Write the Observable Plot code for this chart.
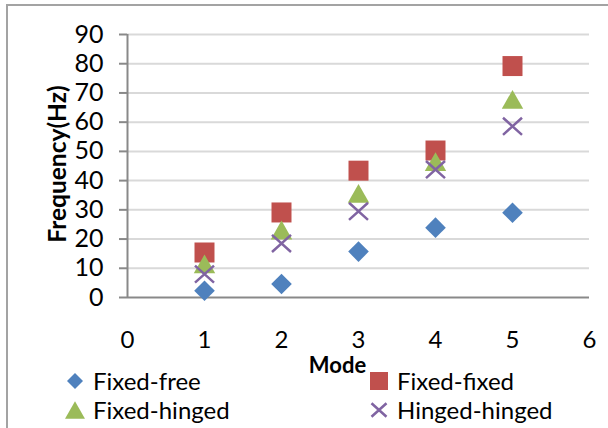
<!DOCTYPE html>
<html>
<head>
<meta charset="utf-8">
<script src="https://cdn.jsdelivr.net/npm/d3@7"></script>
<script src="https://cdn.jsdelivr.net/npm/@observablehq/plot@0.6"></script>
<style>
  body { margin: 0; background: #fff; font-family: Lato, sans-serif; }
  #frame { position: relative; width: 608px; height: 428px; overflow: hidden; background: #fff; }
  #chart { position: absolute; left: 0; top: 0; }
  #border { position: absolute; left: 6px; top: 4px; width: 700px; height: 500px;
            border-left: 2px solid #a3a3a3; border-top: 2px solid #a3a3a3; }
  #legend { position: absolute; left: 65px; top: 369px; display: grid;
            grid-template-columns: 304px 304px; grid-auto-rows: 29px; }
  .item { display: flex; align-items: center; height: 24px; font-size: 24px; line-height: 24px;
          color: #000; white-space: nowrap; }
  .item svg { width: 20px; height: 20px; margin-right: 8px; overflow: visible; flex: none; }
</style>
</head>
<body>
<div id="frame">
  <div id="chart"></div>
  <div id="border"></div>
  <div id="legend"></div>
</div>
<script>
// Natural frequencies (Hz) of the first five modes for each boundary condition
const modes = [1, 2, 3, 4, 5];
const fixedFree = [2.3, 4.6, 15.7, 23.9, 29.0];
const fixedFixed = [15.4, 29.1, 43.4, 50.3, 79.2];
const fixedHinged = [11.5, 23.1, 35.6, 46.5, 67.8];
const hingedHinged = [8.0, 18.5, 29.5, 43.8, 58.6];
const seriesNames = ["Fixed-free", "Fixed-fixed", "Fixed-hinged", "Hinged-hinged"];
const seriesValues = [fixedFree, fixedFixed, fixedHinged, hingedHinged];
const xTicks = [0, 1, 2, 3, 4, 5, 6];
const yTicks = [0, 10, 20, 30, 40, 50, 60, 70, 80, 90];

// Marker shapes, drawn inside a box of half-size r where size = π r²
const half = s => Math.sqrt(s / Math.PI);
const shapes = {
  diamond: { draw(c, s) { const r = half(s); c.moveTo(0, -r); c.lineTo(r, 0); c.lineTo(0, r); c.lineTo(-r, 0); c.closePath(); } },
  square: { draw(c, s) { const r = half(s); c.rect(-r, -r, 2 * r, 2 * r); } },
  triangle: { draw(c, s) { const r = half(s); c.moveTo(0, -0.92 * r); c.lineTo(1.05 * r, 0.92 * r); c.lineTo(-1.05 * r, 0.92 * r); c.closePath(); } },
  cross: { draw(c, s) { const r = half(s); c.moveTo(-r, -0.9 * r); c.lineTo(r, 0.9 * r); c.moveTo(r, -0.9 * r); c.lineTo(-r, 0.9 * r); } }
};

const styles = [
  { shape: shapes.diamond, r: 10.3, legendR: 8, fill: "#4F81BD", stroke: "none", strokeWidth: 0 },
  { shape: shapes.square, r: 10, legendR: 9, fill: "#C0504D", stroke: "none", strokeWidth: 0 },
  { shape: shapes.triangle, r: 10.2, legendR: 9.5, fill: "#9BBB59", stroke: "none", strokeWidth: 0 },
  { shape: shapes.cross, r: 9.5, legendR: 7.5, fill: "none", stroke: "#8064A2", strokeWidth: 2.5 }
];

const rows = seriesNames.flatMap((name, i) =>
  modes.map((m, j) => ({ series: name, mode: m, freq: seriesValues[i][j] })));

const axisGray = "#898989";

const chart = Plot.plot({
  width: 608,
  height: 380,
  marginLeft: 127,
  marginRight: 19,
  marginTop: 34,
  marginBottom: 83,
  style: { fontFamily: "Lato, sans-serif", background: "transparent", overflow: "visible" },
  x: { domain: [0, 6] },
  y: { domain: [0, 90] },
  marks: [
    Plot.ruleY(yTicks.filter(v => v > 0), { stroke: "#d9d9d9", strokeWidth: 2 }),
    Plot.axisY({ ticks: yTicks, tickFormat: "d", tickSize: 8, tickPadding: 16, fontSize: 25, stroke: axisGray, strokeWidth: 2, label: null }),
    Plot.axisX({ ticks: xTicks, tickFormat: "d", tickSize: 0, tickPadding: 33, fontSize: 24, label: null }),
    Plot.ruleX([0], { stroke: axisGray, strokeWidth: 2 }),
    Plot.ruleY([0], { stroke: axisGray, strokeWidth: 2 }),
    ...seriesNames.map((name, i) => Plot.dot(rows.filter(d => d.series === name), {
      x: "mode", y: "freq",
      symbol: styles[i].shape, r: styles[i].r,
      fill: styles[i].fill, stroke: styles[i].stroke, strokeWidth: styles[i].strokeWidth
    })),
    Plot.text(["Mode"], { text: d => d, frameAnchor: "bottom", textAnchor: "middle", dx: -21, dy: 68, fontSize: 22, fontWeight: "bold", lineAnchor: "middle" }),
    Plot.text(["Frequency(Hz)"], { text: d => d, frameAnchor: "left", textAnchor: "middle", dx: -69, dy: -2, rotate: -90, fontSize: 24.5, fontWeight: "bold", lineAnchor: "middle" })
  ]
});
document.getElementById("chart").append(chart);

// Legend: two columns, series in reading order
const legend = d3.select("#legend");
seriesNames.forEach((name, i) => {
  const s = styles[i];
  const item = legend.append("div").attr("class", "item");
  const svg = item.append("svg").attr("viewBox", "-10 -10 20 20");
  svg.append("path")
    .attr("d", d3.symbol(s.shape, Math.PI * s.legendR * s.legendR)())
    .attr("fill", s.fill).attr("stroke", s.stroke).attr("stroke-width", s.strokeWidth);
  item.append("span").text(name);
});
</script>
</body>
</html>
